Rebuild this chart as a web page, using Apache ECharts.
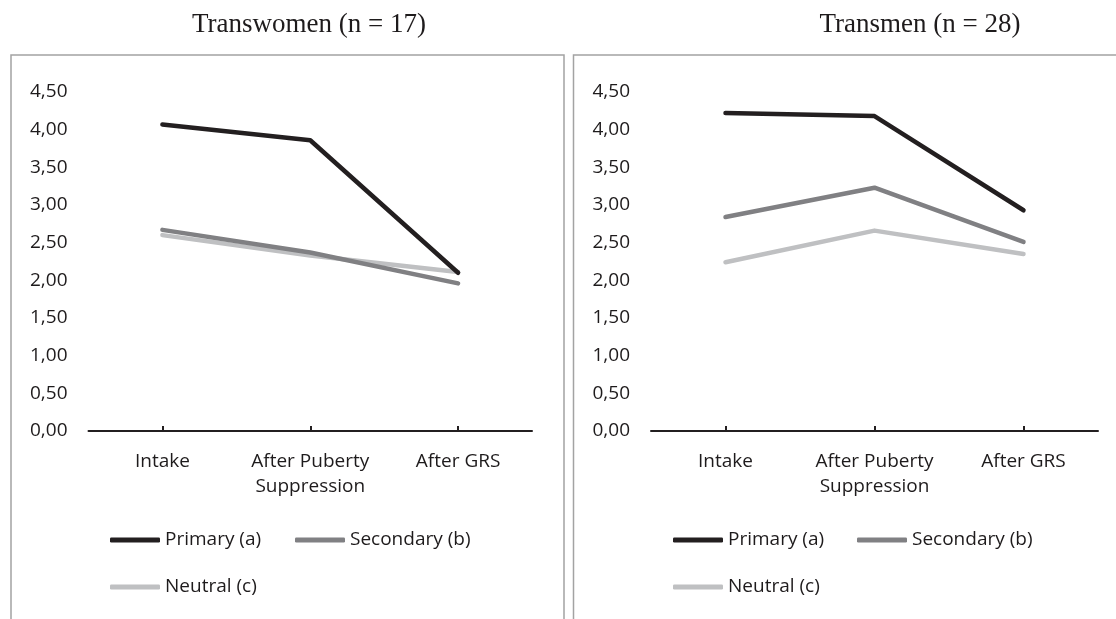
<!DOCTYPE html>
<html>
<head>
<meta charset="utf-8">
<script src="https://cdn.jsdelivr.net/npm/echarts@6/dist/echarts.min.js"></script>
<style>
html,body{margin:0;padding:0;background:#fff;}
#chart{width:1116px;height:619px;}
</style>
</head>
<body>
<div id="chart"></div>
<script>
const categories = ['Intake', 'After Puberty\nSuppression', 'After GRS'];
const seriesNames = ['Primary (a)', 'Secondary (b)', 'Neutral (c)'];
const panelTitles = ['Transwomen (n = 17)', 'Transmen (n = 28)'];
// Transwomen
const womenPrimary = [4.07, 3.86, 2.10];
const womenSecondary = [2.67, 2.37, 1.96];
const womenNeutral = [2.60, 2.33, 2.11];
// Transmen
const menPrimary = [4.22, 4.18, 2.93];
const menSecondary = [2.84, 3.23, 2.51];
const menNeutral = [2.24, 2.66, 2.35];
const yTicks = {min: 0, max: 4.5, interval: 0.5};

const colors = ['#231f20', '#808083', '#bfc0c2'];
const fontFam = '"Open Sans", sans-serif';
const txtColor = '#1e1b1c';

const chart = echarts.init(document.getElementById('chart'), null, {renderer: 'canvas'});

const grids = [
  {left: 88.5, top: 92, width: 443.5, height: 339},
  {left: 651, top: 92, width: 447, height: 339}
];

function xAxis(i) {
  return {
    type: 'category', gridIndex: i, data: categories, boundaryGap: true,
    axisLine: {lineStyle: {color: '#231f20', width: 2}},
    axisTick: {show: true, alignWithLabel: true, inside: true, length: 5, lineStyle: {color: '#231f20', width: 2}},
    axisLabel: {color: txtColor, fontFamily: fontFam, fontSize: 19, lineHeight: 25, margin: 18, interval: 0},
    splitLine: {show: false}
  };
}
function yAxis(i) {
  return {
    type: 'value', gridIndex: i, min: yTicks.min, max: yTicks.max, interval: yTicks.interval,
    axisLine: {show: false}, axisTick: {show: false}, splitLine: {show: false},
    axisLabel: {color: txtColor, fontFamily: fontFam, fontSize: 19, margin: 21,
      formatter: v => v.toFixed(2).replace('.', ',')}
  };
}
function line(name, data, i, c) {
  return {
    name: name, type: 'line', xAxisIndex: i, yAxisIndex: i, data: data,
    symbol: 'none', color: colors[c],
    lineStyle: {color: colors[c], width: 4.5, cap: 'round', join: 'round'},
    z: 10 - c
  };
}
function legend(name, left, top) {
  return {
    data: [name], left: left, top: top, padding: 0, orient: 'horizontal',
    icon: 'roundRect', itemWidth: 50, itemHeight: 5, itemGap: 0,
    textStyle: {color: txtColor, fontFamily: fontFam, fontSize: 19, lineHeight: 20, padding: [0,0,0,0]},
    selectedMode: false
  };
}

const option = {
  animation: false,
  backgroundColor: '#fff',
  grid: grids,
  xAxis: [xAxis(0), xAxis(1)],
  yAxis: [yAxis(0), yAxis(1)],
  legend: [
    legend(seriesNames[0], 110, 530),
    legend(seriesNames[1], 295, 530),
    legend(seriesNames[2], 110, 577),
    legend(seriesNames[0], 673, 530),
    legend(seriesNames[1], 857, 530),
    legend(seriesNames[2], 673, 577)
  ],
  series: [
    line(seriesNames[0], womenPrimary, 0, 0),
    line(seriesNames[1], womenSecondary, 0, 1),
    line(seriesNames[2], womenNeutral, 0, 2),
    line(seriesNames[0], menPrimary, 1, 0),
    line(seriesNames[1], menSecondary, 1, 1),
    line(seriesNames[2], menNeutral, 1, 2)
  ],
  graphic: [
    {type: 'rect', shape: {x: 11, y: 55, width: 553, height: 600}, style: {fill: 'none', stroke: '#a3a3a3', lineWidth: 1.5}, silent: true},
    {type: 'rect', shape: {x: 573.5, y: 55, width: 600, height: 600}, style: {fill: 'none', stroke: '#a3a3a3', lineWidth: 1.5}, silent: true},
    {type: 'text', x: 309, y: 25, style: {text: panelTitles[0], fill: txtColor, font: '27px "Liberation Serif", "Times New Roman", serif', textAlign: 'center', textVerticalAlign: 'middle'}},
    {type: 'text', x: 920, y: 25, style: {text: panelTitles[1], fill: txtColor, font: '27px "Liberation Serif", "Times New Roman", serif', textAlign: 'center', textVerticalAlign: 'middle'}}
  ]
};
chart.setOption(option);
</script>
</body>
</html>
